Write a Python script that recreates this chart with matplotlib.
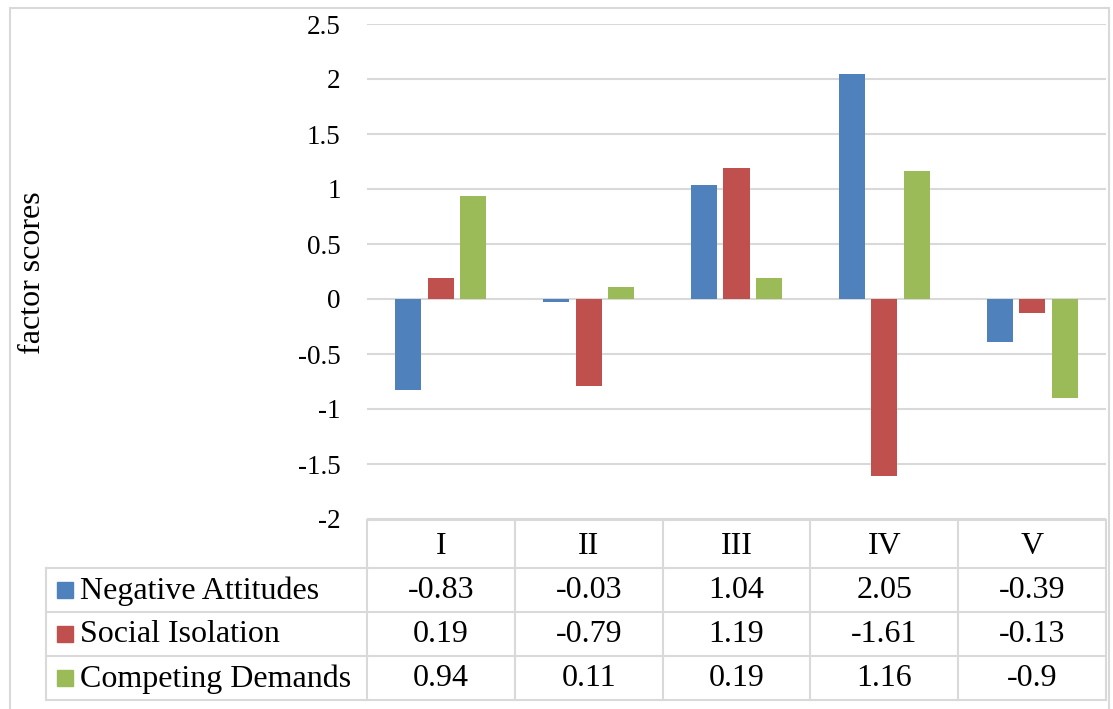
import matplotlib
matplotlib.use("Agg")
import matplotlib.pyplot as plt
from matplotlib.patches import Rectangle
from matplotlib.lines import Line2D
import numpy as np

categories = ["I", "II", "III", "IV", "V"]
series_names = ["Negative Attitudes", "Social Isolation", "Competing Demands"]
negative_attitudes = [-0.83, -0.03, 1.04, 2.05, -0.39]
social_isolation = [0.19, -0.79, 1.19, -1.61, -0.13]
competing_demands = [0.94, 0.11, 0.19, 1.16, -0.9]
colors = ["#4F81BD", "#C0504D", "#9BBB59"]
yticks = [-2, -1.5, -1, -0.5, 0, 0.5, 1, 1.5, 2, 2.5]

plt.rcParams["font.family"] = ["Liberation Serif", "DejaVu Serif"]
TICK_FS = 19.5
TABLE_FS = 23
GRID = "#D9D9D9"

W, H = 1113, 709
fig = plt.figure(figsize=(W / 100, H / 100), dpi=100)

def fx(px):
    return px / W

def fy(py):
    return 1 - py / H

# plot area in pixel coords of the reference
left, right, top, bottom = 367, 1106, 24, 519
ax = fig.add_axes([fx(left), fy(bottom), fx(right) - fx(left), fy(top) - fy(bottom)])
ax.set_xlim(0, len(categories))
ax.set_ylim(-2, 2.5)

series = [negative_attitudes, social_isolation, competing_demands]
x = np.arange(len(categories)) + 0.5
offsets = [-0.22, 0, 0.22]
for vals, off, c in zip(series, offsets, colors):
    ax.bar(x + off, vals, width=0.176, color=c, zorder=3)

ax.set_yticks(yticks)
ax.set_yticklabels([f"{v:g}" for v in yticks], fontsize=TICK_FS)
ax.set_xticks([])
ax.tick_params(axis="y", length=0, pad=19)
for s in ax.spines.values():
    s.set_visible(False)
ax.grid(axis="y", color=GRID, linewidth=1.5, zorder=0)

fig.text(fx(33), fy(273), "factor scores", rotation=90, ha="center", va="center", fontsize=TABLE_FS)

# data table below the plot
col_w = (right - left) / len(categories)
row_y = [520, 568, 612, 656, 700]
lw = 1.5

def hline(y, x0, x1):
    fig.add_artist(Line2D([fx(x0), fx(x1)], [fy(y), fy(y)], color=GRID, lw=lw))

def vline(xp, y0, y1):
    fig.add_artist(Line2D([fx(xp), fx(xp)], [fy(y0), fy(y1)], color=GRID, lw=lw))

hline(520, left, right)
for y in row_y[1:]:
    hline(y, 46, right)
for i in range(len(categories) + 1):
    vline(left + i * col_w, 520, 700)
vline(46, 568, 700)

for i, cat in enumerate(categories):
    cx = left + (i + 0.5) * col_w
    fig.text(fx(cx), fy(546), cat, ha="center", va="center", fontsize=TABLE_FS)
    for r, vals in enumerate(series):
        cy = (row_y[r + 1] + row_y[r + 2]) / 2
        fig.text(fx(cx), fy(cy + 1), f"{vals[i]:g}", ha="center", va="center", fontsize=TABLE_FS)

for r, (name, c) in enumerate(zip(series_names, colors)):
    cy = (row_y[r + 1] + row_y[r + 2]) / 2
    fig.add_artist(Rectangle((fx(57), fy(cy + 8)), fx(16), 16 / H, color=c))
    fig.text(fx(80), fy(cy + 1), name, ha="left", va="center", fontsize=TABLE_FS)

# outer chart border
fig.add_artist(Rectangle((fx(10), fy(720)), fx(1099), 712 / H, fill=False,
                         edgecolor=GRID, lw=1.5))

fig.savefig("out.png", dpi=100)
